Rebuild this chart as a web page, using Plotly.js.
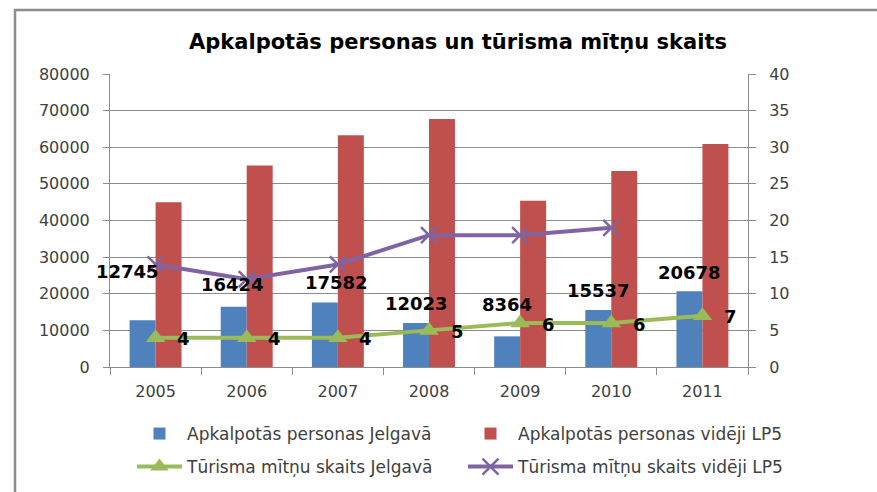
<!DOCTYPE html>
<html>
<head>
<meta charset="utf-8">
<script src="https://cdn.plot.ly/plotly-3.0.1.min.js"></script>
<style>html,body{margin:0;padding:0;background:#fff;}#chart{width:877px;height:492px;}</style>
</head>
<body>
<div id="chart"></div>
<script>
const years = [2005, 2006, 2007, 2008, 2009, 2010, 2011];
const yearLabels = ['2005', '2006', '2007', '2008', '2009', '2010', '2011'];
const servedJelgava = [12745, 16424, 17582, 12023, 8364, 15537, 20678];
const servedLP5 = [45000, 55000, 63300, 67700, 45400, 53500, 60900];
const lodgingJelgava = [4, 4, 4, 5, 6, 6, 7];
const lodgingLP5 = [14, 12, 14, 18, 18, 19, null];

const seriesNames = [
  'Apkalpotās personas Jelgavā',
  'Apkalpotās personas vidēji LP5',
  'Tūrisma mītņu skaits Jelgavā',
  'Tūrisma mītņu skaits vidēji LP5'
];
const titleText = 'Apkalpotās personas un tūrisma mītņu skaits';

// label placement (pixel shifts relative to the bar top / marker)
const servedLabelShift = [[-28, 49], [-14, 22], [-1, 20], [-13, 19], [-13, 32], [-13, 20], [-13, 19]];
const lodgingLabelShift = [28, -1];

const FONT = 'DejaVu Sans, Verdana, sans-serif';
const GRID = '#8c8c8c';
const TXT = '#404040';

const legendIds = ['legend', 'legend2', 'legend3', 'legend4'];

const traces = [
  {type: 'bar', x: years, y: servedJelgava, name: seriesNames[0], marker: {color: '#4F81BD'}, yaxis: 'y', legend: legendIds[0], showlegend: true},
  {type: 'bar', x: years, y: servedLP5, name: seriesNames[1], marker: {color: '#C0504D'}, yaxis: 'y', legend: legendIds[1], showlegend: true},
  {type: 'scatter', mode: 'lines+markers', x: years, y: lodgingJelgava, name: seriesNames[2], yaxis: 'y2', legend: legendIds[2], showlegend: true,
   line: {color: '#9BBB59', width: 4}, marker: {symbol: 'triangle-up', size: 17, color: '#9BBB59'}},
  {type: 'scatter', mode: 'lines+markers', x: years, y: lodgingLP5, name: seriesNames[3], yaxis: 'y2', legend: legendIds[3], showlegend: true,
   line: {color: '#8064A2', width: 4}, marker: {symbol: 'x-thin-open', size: 16, line: {color: '#8064A2', width: 2.5}, color: '#8064A2'}}
];

const annotations = [];
years.forEach((yr, i) => {
  annotations.push({x: yr, y: servedJelgava[i], xref: 'x', yref: 'y', text: String(servedJelgava[i]),
    showarrow: false, xshift: servedLabelShift[i][0], yshift: servedLabelShift[i][1],
    font: {family: FONT, size: 18, color: '#000', weight: 'bold'}});
  annotations.push({x: yr, y: lodgingJelgava[i], xref: 'x', yref: 'y2', text: String(lodgingJelgava[i]),
    showarrow: false, xshift: lodgingLabelShift[0], yshift: lodgingLabelShift[1],
    font: {family: FONT, size: 18, color: '#000', weight: 'bold'}});
});

const L = 110, R = 748, T = 74, B = 367;
const px2x = p => (p - L) / (R - L);
const py2y = p => (B - p) / (B - T);

function legendAt(px, py) {
  return {orientation: 'h', xref: 'container', yref: 'container', x: px / 877, xanchor: 'left', y: 1 - py / 492, yanchor: 'middle',
          itemwidth: 45, font: {family: FONT, size: 17, color: TXT}, bgcolor: 'rgba(0,0,0,0)', borderwidth: 0, visible: true};
}

const layout = {
  width: 877, height: 492,
  showlegend: true,
  margin: {l: L, r: 877 - R, t: T, b: 492 - B, pad: 0},
  paper_bgcolor: '#fff', plot_bgcolor: '#fff',
  font: {family: FONT, color: TXT, size: 16},
  title: {text: titleText, x: 458 / 877, xanchor: 'center', xref: 'container', y: 1 - 42 / 492, yanchor: 'middle', yref: 'container',
          font: {family: FONT, size: 21, color: '#000', weight: 'bold'}},
  barmode: 'group', bargap: 0.43, bargroupgap: 0,
  xaxis: {type: 'linear', range: [years[0] - 0.5, years[years.length - 1] + 0.5],
          tickmode: 'array', tickvals: years, ticktext: yearLabels, ticks: '',
          minor: {tickmode: 'linear', tick0: years[0] - 0.5, dtick: 1, ticks: 'outside', ticklen: 7, tickcolor: GRID, showgrid: false},
          showline: true, linecolor: GRID, linewidth: 1, showgrid: false, zeroline: false, ticklabelstandoff: 10,
          tickfont: {family: FONT, size: 16, color: TXT}},
  yaxis: {range: [0, 80000], dtick: 10000, tick0: 0, ticks: 'outside', ticklen: 6, tickcolor: GRID, tickformat: 'd',
          showline: true, linecolor: GRID, showgrid: true, gridcolor: GRID, gridwidth: 1, zeroline: false,
          ticklabelstandoff: 10, tickfont: {family: FONT, size: 16, color: TXT}},
  yaxis2: {range: [0, 40], dtick: 5, tick0: 0, overlaying: 'y', side: 'right', ticks: 'outside', ticklen: 7, tickcolor: GRID,
           showline: true, linecolor: GRID, showgrid: false, zeroline: false, ticklabelstandoff: 10,
           tickfont: {family: FONT, size: 16, color: TXT}},
  legend: legendAt(132, 434),
  legend2: legendAt(463, 434),
  legend3: legendAt(132, 467),
  legend4: legendAt(463, 467),
  annotations: annotations,
  shapes: [
    {type: 'line', xref: 'paper', yref: 'paper', x0: px2x(15), x1: px2x(15), y0: py2y(9), y1: py2y(495), line: {color: '#8c8c8c', width: 2.5}},
    {type: 'line', xref: 'paper', yref: 'paper', x0: px2x(14), x1: px2x(880), y0: py2y(10), y1: py2y(10), line: {color: '#8c8c8c', width: 2.5}}
  ],
  hovermode: false
};

Plotly.newPlot('chart', traces, layout, {displayModeBar: false, staticPlot: true});
</script>
</body>
</html>
